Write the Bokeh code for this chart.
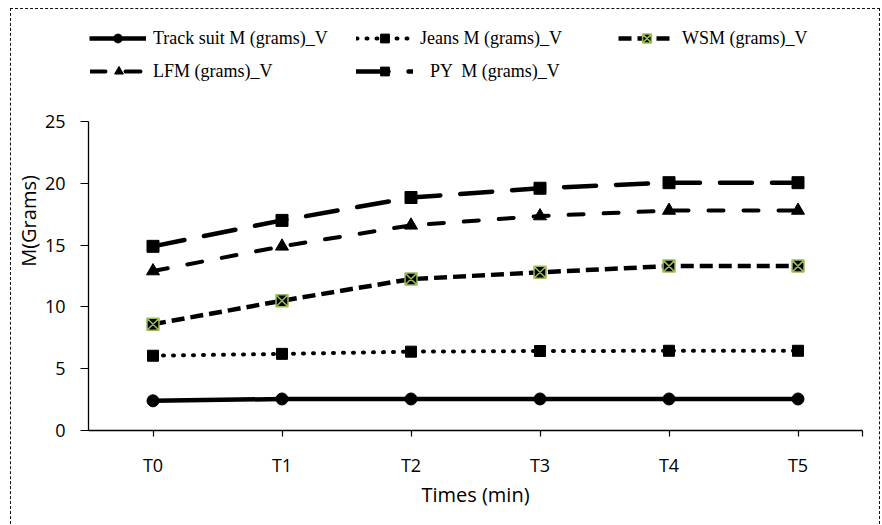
from bokeh.plotting import figure
from bokeh.models import Range1d, FixedTicker, Legend, LegendItem
from bokeh.embed import file_html
from bokeh.resources import INLINE

categories = ["T0", "T1", "T2", "T3", "T4", "T5"]
track_suit = [2.4, 2.55, 2.55, 2.55, 2.55, 2.55]
jeans = [6.05, 6.2, 6.38, 6.43, 6.45, 6.45]
wsm = [8.6, 10.5, 12.25, 12.8, 13.3, 13.3]
lfm = [12.9, 14.9, 16.6, 17.35, 17.8, 17.8]
py = [14.9, 17.0, 18.85, 19.6, 20.05, 20.05]
y_ticks = [0, 5, 10, 15, 20, 25]

labels = ["Track suit M (grams)_V", "Jeans M (grams)_V", "WSM (grams)_V",
          "LFM (grams)_V", "PY  M (grams)_V"]

x = list(range(len(categories)))

# layout (canvas pixels): frame spans the legend band too, the axis stops at 25
W, H = 870, 516
frame_top, frame_bottom = 2, 421
axis_top = 112  # where 25 sits
y_max = y_ticks[-1]
y_end = y_max * (frame_bottom - frame_top) / (frame_bottom - axis_top)

p = figure(width=W, height=H, output_backend="svg", toolbar_location=None,
           x_range=Range1d(-0.5, len(categories) - 0.5), y_range=Range1d(0, y_end),
           min_border_left=75, min_border_right=19, min_border_top=frame_top,
           min_border_bottom=H - frame_bottom)
p.title.visible = False
p.styles = {"border-top": "1px dashed #111", "border-left": "1px dashed #111",
            "border-right": "1px dashed #111", "margin-left": "10px", "margin-top": "8px"}
p.outline_line_color = None
p.xgrid.visible = False
p.ygrid.visible = False
p.background_fill_color = "white"
p.border_fill_color = "white"

# axes
p.xaxis.ticker = FixedTicker(ticks=x + [len(categories) - 0.5])
ov = {i: c for i, c in enumerate(categories)}
ov[len(categories) - 0.5] = ""
p.xaxis.major_label_overrides = ov
p.yaxis.ticker = FixedTicker(ticks=y_ticks)
p.yaxis.bounds = (0, y_max)
for ax in (p.xaxis[0], p.yaxis[0]):
    ax.axis_line_color = "black"
    ax.axis_line_width = 1.3
    ax.major_tick_line_color = "black"
    ax.major_tick_line_width = 1.2
    ax.major_tick_in = 0
    ax.minor_tick_line_color = None
    ax.major_label_text_font = "Open Sans"
    ax.major_label_text_font_size = "18px"
    ax.major_label_text_color = "black"
    ax.axis_label_text_font = "Open Sans"
    ax.axis_label_text_font_size = "20px"
    ax.axis_label_text_font_style = "normal"
    ax.axis_label_text_color = "black"
p.xaxis.axis_label = "Times (min)"
p.yaxis.axis_label = "M(Grams)"
p.xaxis.major_tick_out = 6
p.yaxis.major_tick_out = 8
p.xaxis.major_label_standoff = 16
p.xaxis.axis_label_standoff = 1
p.yaxis.major_label_standoff = 15
p.yaxis.axis_label_standoff = 0

# series
r1l = p.line(x, track_suit, line_color="black", line_width=4.5)
r1m = p.scatter(x, track_suit, marker="circle", size=12, fill_color="black", line_color="black")

r2l = p.line(x, jeans, line_color="black", line_width=4, line_dash="1 9", line_cap="round")
r2m = p.scatter(x, jeans, marker="square", size=11, fill_color="black", line_color="black")

r3l = p.line(x, wsm, line_color="black", line_width=4.5, line_dash="13 6")
r3m = p.scatter(x, wsm, marker="square_x", size=12, fill_color="black", line_color="#9BBB59", line_width=1.5)

r4l = p.line(x, lfm, line_color="black", line_width=4, line_dash="15 20", line_cap="round")
r4m = p.scatter(x, lfm, marker="triangle", size=13, fill_color="black", line_color="black")

r5l = p.line(x, py, line_color="black", line_width=4.5, line_dash="32 20", line_cap="round")
r5m = p.scatter(x, py, marker="square", size=12, fill_color="black", line_color="black")

renderers = [(r1l, r1m), (r2l, r2m), (r3l, r3m), (r4l, r4m), (r5l, r5m)]
# legend boxes: (left from frame left, bottom from frame bottom), in pixels
locs = [(1, 381), (268, 381), (530, 381), (2, 348), (268, 348)]
standoffs = [7, 7, 7, 6, 17]

for (rl, rm), lab, loc, so in zip(renderers, labels, locs, standoffs):
    lg = Legend(items=[LegendItem(label=lab, renderers=[rl, rm])], location=loc,
                orientation="horizontal", label_standoff=so, glyph_width=57, glyph_height=22,
                padding=0, margin=0, spacing=0, border_line_color=None,
                background_fill_alpha=0, label_text_font="Liberation Serif",
                label_text_font_size="18px", label_height=22, label_text_color="black")
    p.add_layout(lg, "center")

open("out.html", "w").write(file_html(p, INLINE))
